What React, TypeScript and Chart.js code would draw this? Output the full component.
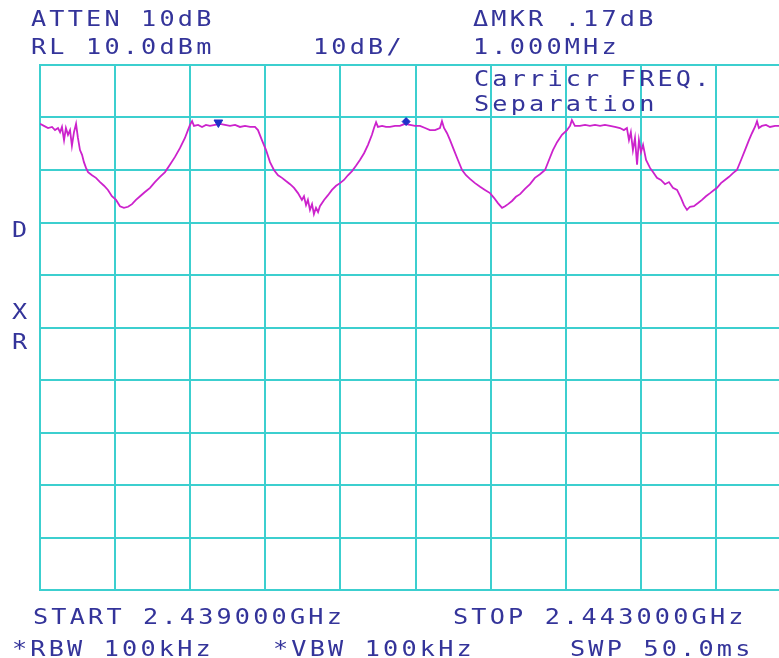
import React, { useEffect, useRef } from "react";
import { Chart, registerables } from "chart.js";

Chart.register(...registerables);

// Frequency offset from START (MHz) and trace level (dBm)
const traceFreqMHz = [
  0, 0.021, 0.043, 0.064, 0.08, 0.096, 0.107, 0.117, 0.128, 0.138, 0.149, 0.16, 0.17, 0.181, 0.192, 0.202, 0.213, 0.224, 0.234, 0.245, 0.256, 0.277, 0.298, 0.32, 0.341, 0.362, 0.383, 0.405, 0.426, 0.447, 0.469,
  0.49, 0.511, 0.533, 0.559, 0.586, 0.612, 0.639, 0.666, 0.692, 0.719, 0.746, 0.772, 0.788, 0.799, 0.81, 0.82,
  0.842, 0.863, 0.884, 0.905, 0.932, 0.959, 0.985, 1.012, 1.039, 1.065, 1.092, 1.119, 1.145, 1.161,
  1.182, 1.204, 1.225, 1.246, 1.268, 1.289, 1.31, 1.332, 1.353, 1.374, 1.395, 1.406, 1.417, 1.427, 1.438, 1.449, 1.459, 1.47, 1.481, 1.491,
  1.513, 1.534, 1.555, 1.577, 1.598, 1.619, 1.64, 1.662, 1.683, 1.704, 1.726, 1.747, 1.768, 1.779, 1.79, 1.8,
  1.822, 1.843, 1.864, 1.891, 1.917, 1.944, 1.971, 1.997, 2.024, 2.051, 2.077, 2.104, 2.13, 2.141, 2.152, 2.168, 2.184,
  2.205, 2.226, 2.248, 2.269, 2.29, 2.317, 2.344, 2.37, 2.397, 2.418, 2.439, 2.461, 2.477, 2.493,
  2.514, 2.535, 2.557, 2.583, 2.61, 2.636, 2.663, 2.69, 2.711, 2.732, 2.754, 2.78, 2.807, 2.823, 2.833, 2.849,
  2.876, 2.903, 2.929, 2.956, 2.983, 3.009, 3.036, 3.062, 3.089, 3.11, 3.126, 3.137, 3.147, 3.158, 3.169, 3.18, 3.19, 3.201, 3.212, 3.228, 3.249, 3.265, 3.286, 3.307, 3.329, 3.35, 3.371, 3.393, 3.414, 3.43, 3.446, 3.462, 3.483,
  3.505, 3.526, 3.547, 3.569, 3.59, 3.606, 3.627, 3.648, 3.67, 3.691, 3.712, 3.734, 3.755, 3.776, 3.792, 3.808, 3.819, 3.829, 3.845, 3.867, 3.888, 3.915, 3.936, 3.995,
];
const traceLevelDbm = [
  -1.2, -1.6, -2.0, -1.8, -2.4, -2.0, -2.8, -1.8, -4.3, -2.0, -3.3, -2.4, -5.4, -2.8, -1.2, -3.9, -6.2, -7.1, -8.5, -9.6, -10.4, -11.0, -11.5, -12.3, -13.0, -13.8, -15.0, -15.7, -16.9, -17.2, -17.0,
  -16.5, -15.7, -15.0, -14.2, -13.4, -12.3, -11.3, -10.4, -9.0, -7.5, -5.8, -3.9, -2.4, -1.4, -0.7, -1.6,
  -1.4, -1.8, -1.4, -1.6, -1.4, -1.2, -1.4, -1.6, -1.4, -1.8, -1.6, -1.8, -1.8, -2.4,
  -4.3, -6.2, -8.5, -10.0, -11.0, -11.5, -12.1, -12.7, -13.4, -14.4, -15.7, -15.0, -16.7, -15.7, -17.6, -16.5, -18.4, -17.2, -18.0, -16.9,
  -15.7, -14.8, -13.8, -13.0, -12.5, -11.9, -11.0, -10.2, -9.2, -8.1, -6.8, -5.2, -3.3, -2.0, -0.9, -1.8,
  -1.6, -1.8, -1.8, -1.6, -1.6, -1.2, -1.4, -1.6, -1.6, -2.0, -2.4, -2.4, -2.0, -0.7, -2.0, -3.0, -4.3,
  -6.2, -8.1, -10.0, -11.0, -11.7, -12.5, -13.2, -13.8, -14.4, -15.3, -16.3, -17.2, -16.9, -16.5,
  -15.9, -15.1, -14.6, -13.6, -12.7, -11.5, -10.8, -10.0, -8.1, -6.2, -4.7, -3.3, -2.4, -1.6, -0.5, -1.6,
  -1.6, -1.4, -1.6, -1.4, -1.6, -1.4, -1.6, -1.8, -2.0, -2.4, -2.0, -4.3, -2.8, -6.2, -3.9, -9.0, -4.3, -6.6, -5.2, -8.1, -9.6, -10.4, -11.5, -11.9, -12.7, -12.3, -13.4, -13.8, -15.3, -16.7, -17.6, -17.0, -16.9,
  -16.3, -15.7, -15.0, -14.4, -13.8, -13.4, -12.5, -11.9, -11.3, -10.6, -10.0, -8.1, -6.2, -4.3, -3.0, -1.8, -0.7, -2.0, -1.6, -1.4, -1.8, -1.6, -1.6, -1.6,
];

// Markers (reference marker and delta marker)
const markerFreqMHz = [0.95, 1.95];
const markerLevelDbm = [-0.95, -0.78];

const spanMHz = [0, 4];
const levelRangeDbm = [-90, 10];

const topLeftLines = ["ATTEN 10dB", "RL 10.0dBm"];
const scaleLabel = "10dB/";
const markerLines = ["\u0394MKR .17dB", "1.000MHz"];
const noteLines = ["Carricr FREQ.", "Separation"];
const sideLetters = ["D", "X", "R"];
const startLabel = "START 2.439000GHz";
const stopLabel = "STOP 2.443000GHz";
const bottomLabels = ["*RBW 100kHz", "*VBW 100kHz", "SWP 50.0ms"];

const GRID = "#3ccfcf";
const TEXT = "#34349a";

const txt = (left: number, top: number): React.CSSProperties => ({
  position: "absolute",
  left,
  top,
  fontFamily: "'DejaVu Sans Mono', monospace",
  fontSize: 21,
  lineHeight: "21px",
  letterSpacing: "2.65px",
  color: TEXT,
  whiteSpace: "pre",
  transform: "scaleX(1.2)",
  transformOrigin: "0 0",
});

export default function App() {
  const ref = useRef<HTMLCanvasElement | null>(null);

  useEffect(() => {
    if (!ref.current) return;
    const chart = new Chart(ref.current, {
      type: "scatter",
      data: {
        datasets: [
          {
            label: "Markers",
            data: markerFreqMHz.map((f, i) => ({ x: f, y: markerLevelDbm[i] })),
            showLine: false,
            pointStyle: ["triangle", "rectRot"],
            rotation: [180, 0],
            pointRadius: [5, 4],
            backgroundColor: "#2030c8",
            borderColor: "#2030c8",
            borderWidth: 1,
          },
          {
            label: "Trace",
            data: traceFreqMHz.map((f, i) => ({ x: f, y: traceLevelDbm[i] })),
            showLine: true,
            borderColor: "#cc22cc",
            borderWidth: 1.8,
            pointRadius: 0,
            tension: 0,
          },
        ],
      },
      options: {
        responsive: false,
        animation: false,
        layout: { padding: { left: 40, right: 9, top: 65, bottom: 68 } },
        plugins: { legend: { display: false }, tooltip: { enabled: false }, title: { display: false } },
        scales: {
          x: {
            type: "linear",
            min: spanMHz[0],
            max: spanMHz[1],
            ticks: { display: false, count: 11 },
            grid: { color: GRID, lineWidth: 2, drawTicks: false },
            border: { display: true, color: GRID, width: 2 },
          },
          y: {
            type: "linear",
            min: levelRangeDbm[0],
            max: levelRangeDbm[1],
            ticks: { display: false, count: 11 },
            grid: { color: GRID, lineWidth: 2, drawTicks: false },
            border: { display: true, color: GRID, width: 2 },
          },
        },
      },
    });
    return () => chart.destroy();
  }, []);

  return (
    <div
      style={{
        position: "fixed",
        left: 0,
        top: 0,
        width: 779,
        height: 658,
        overflow: "hidden",
        background: "#ffffff",
      }}
    >
      <canvas ref={ref} width={800} height={658} style={{ position: "absolute", left: 0, top: 0 }} />
      <div style={txt(31, 9.2)}>{topLeftLines[0]}</div>
      <div style={txt(31, 36.8)}>{topLeftLines[1]}</div>
      <div style={txt(313, 36.8)}>{scaleLabel}</div>
      <div style={txt(473, 9.2)}>{markerLines[0]}</div>
      <div style={txt(473, 36.8)}>{markerLines[1]}</div>
      <div style={txt(474, 69.2)}>{noteLines[0]}</div>
      <div style={txt(474, 94.2)}>{noteLines[1]}</div>
      <div style={txt(12, 219.5)}>{sideLetters[0]}</div>
      <div style={txt(12, 301.5)}>{sideLetters[1]}</div>
      <div style={txt(12, 331.5)}>{sideLetters[2]}</div>
      <div style={txt(33, 606.8)}>{startLabel}</div>
      <div style={txt(453, 606.8)}>{stopLabel}</div>
      <div style={txt(12, 639)}>{bottomLabels[0]}</div>
      <div style={txt(273, 639)}>{bottomLabels[1]}</div>
      <div style={txt(570, 639)}>{bottomLabels[2]}</div>
    </div>
  );
}
